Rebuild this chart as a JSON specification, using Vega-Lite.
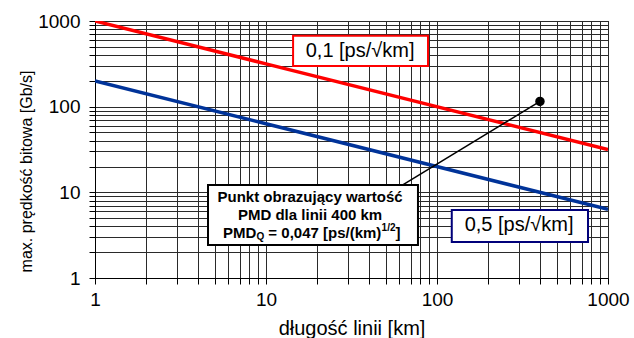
{
  "$schema": "https://vega.github.io/schema/vega-lite/v6.json",
  "width": 513,
  "height": 257,
  "autosize": {"type": "none"},
  "padding": {"left": 95, "top": 21, "right": 26, "bottom": 60},
  "background": "white",
  "config": {
    "font": "Liberation Sans",
    "view": {"stroke": "black", "strokeWidth": 1}
  },
  "datasets": {
    "lines": [
      {"s": "0,1", "x": 1, "y": 1000},
      {"s": "0,1", "x": 10, "y": 316},
      {"s": "0,1", "x": 1000, "y": 31.6},
      {"s": "0,5", "x": 1, "y": 200},
      {"s": "0,5", "x": 10, "y": 63.2},
      {"s": "0,5", "x": 1000, "y": 6.32}
    ],
    "leader": [
      {"x": 400, "y": 115},
      {"x": 60, "y": 11.5}
    ],
    "dot": [{"x": 400, "y": 115}],
    "boxes": [
      {"b": "red", "x": 14.4, "x2": 88.6, "y": 673, "y2": 298},
      {"b": "blue", "x": 122, "x2": 764, "y": 6.24, "y2": 2.64},
      {"b": "black", "x": 4.58, "x2": 77.4, "y": 12.2, "y2": 2.43}
    ],
    "bigLabels": [
      {"t": "0,1 [ps/√km]", "x": 35.5, "y": 447},
      {"t": "0,5 [ps/√km]", "x": 302, "y": 4.17}
    ],
    "boxLines": [
      {"t": "Punkt obrazujący wartość", "x": 18.1, "y": 8.83},
      {"t": "PMD dla linii 400 km", "x": 18.1, "y": 5.44}
    ],
    "l3a": [{"t": "PMD", "x": 5.61, "y": 3.36}],
    "l3q": [{"t": "Q", "x": 5.61, "y": 3.36}],
    "l3b": [{"t": "= 0,047 [ps/(km)", "x": 5.61, "y": 3.36}],
    "l3s": [{"t": "1/2", "x": 5.61, "y": 3.36}],
    "l3c": [{"t": "]", "x": 5.61, "y": 3.36}]
  },
  "encoding": {
    "x": {
      "field": "x",
      "type": "quantitative",
      "scale": {"type": "log", "domain": [1, 1000], "nice": false},
      "axis": {
        "title": "długość linii [km]",
        "titleFont": "Liberation Sans",
        "titleFontSize": 20,
        "titleFontWeight": "normal",
        "titleColor": "black",
        "titleY": 50,
        "titleBaseline": "middle",
        "values": [1, 2, 3, 4, 5, 6, 7, 8, 9, 10, 20, 30, 40, 50, 60, 70, 80, 90, 100, 200, 300, 400, 500, 600, 700, 800, 900, 1000],
        "labelExpr": "(datum.value == 1 || datum.value == 10 || datum.value == 100 || datum.value == 1000) ? format(datum.value, 'd') : ''",
        "labelFont": "Liberation Sans",
        "labelFontSize": 19,
        "labelColor": "black",
        "labelPadding": 6,
        "labelFlush": false,
        "labelOverlap": false,
        "tickSize": 6,
        "tickColor": "black",
        "domainColor": "black",
        "gridColor": "#2a2a2a",
        "gridWidth": 1
      }
    },
    "y": {
      "field": "y",
      "type": "quantitative",
      "scale": {"type": "log", "domain": [1, 1000], "nice": false},
      "axis": {
        "title": "max. prędkość bitowa [Gb/s]",
        "titleFont": "Liberation Sans",
        "titleFontSize": 16,
        "titleFontWeight": "normal",
        "titleColor": "black",
        "titleAngle": -90,
        "titleAnchor": "middle",
        "titleX": -69,
        "titleY": 150,
        "titleAlign": "center",
        "titleBaseline": "middle",
        "values": [1, 2, 3, 4, 5, 6, 7, 8, 9, 10, 20, 30, 40, 50, 60, 70, 80, 90, 100, 200, 300, 400, 500, 600, 700, 800, 900, 1000],
        "labelExpr": "(datum.value == 1 || datum.value == 10 || datum.value == 100 || datum.value == 1000) ? format(datum.value, 'd') : ''",
        "labelFont": "Liberation Sans",
        "labelFontSize": 19,
        "labelColor": "black",
        "labelPadding": 9,
        "labelFlush": false,
        "labelOverlap": false,
        "tickSize": 6,
        "tickColor": "black",
        "domainColor": "black",
        "gridColor": "#2a2a2a",
        "gridWidth": 1
      }
    }
  },
  "layer": [
    {
      "data": {"name": "lines"},
      "mark": {"type": "line", "strokeWidth": 3.5, "clip": true},
      "encoding": {
        "color": {
          "field": "s",
          "type": "nominal",
          "scale": {"domain": ["0,1", "0,5"], "range": ["#ff0000", "#003399"]},
          "legend": null
        }
      }
    },
    {
      "data": {"name": "leader"},
      "mark": {"type": "line", "color": "black", "strokeWidth": 1.5},
      "encoding": {}
    },
    {
      "data": {"name": "dot"},
      "mark": {"type": "point", "filled": true, "color": "black", "size": 90, "opacity": 1}
    },
    {
      "data": {"name": "boxes"},
      "mark": {"type": "rect", "fill": "white", "strokeWidth": 2},
      "encoding": {
        "x2": {"field": "x2"},
        "y2": {"field": "y2"},
        "stroke": {
          "field": "b",
          "type": "nominal",
          "scale": {"domain": ["red", "blue", "black"], "range": ["#ff0000", "#00007a", "#000000"]},
          "legend": null
        }
      }
    },
    {
      "data": {"name": "bigLabels"},
      "mark": {"type": "text", "font": "Liberation Sans", "fontSize": 20, "color": "black", "align": "center", "baseline": "middle"},
      "encoding": {"text": {"field": "t"}}
    },
    {
      "data": {"name": "boxLines"},
      "mark": {"type": "text", "font": "Liberation Sans", "fontSize": 15, "fontWeight": "bold", "color": "black", "align": "center", "baseline": "middle"},
      "encoding": {"text": {"field": "t"}}
    },
    {
      "data": {"name": "l3a"},
      "mark": {"type": "text", "font": "Liberation Sans", "fontSize": 15, "fontWeight": "bold", "color": "black", "align": "left", "baseline": "middle"},
      "encoding": {"text": {"field": "t"}}
    },
    {
      "data": {"name": "l3q"},
      "mark": {"type": "text", "font": "Liberation Sans", "fontSize": 10, "fontWeight": "bold", "color": "black", "align": "left", "baseline": "middle", "dx": 33.5, "dy": 4},
      "encoding": {"text": {"field": "t"}}
    },
    {
      "data": {"name": "l3b"},
      "mark": {"type": "text", "font": "Liberation Sans", "fontSize": 15, "fontWeight": "bold", "color": "black", "align": "left", "baseline": "middle", "dx": 45.3},
      "encoding": {"text": {"field": "t"}}
    },
    {
      "data": {"name": "l3s"},
      "mark": {"type": "text", "font": "Liberation Sans", "fontSize": 10, "fontWeight": "bold", "color": "black", "align": "left", "baseline": "middle", "dx": 158.5, "dy": -5},
      "encoding": {"text": {"field": "t"}}
    },
    {
      "data": {"name": "l3c"},
      "mark": {"type": "text", "font": "Liberation Sans", "fontSize": 15, "fontWeight": "bold", "color": "black", "align": "left", "baseline": "middle", "dx": 172.5},
      "encoding": {"text": {"field": "t"}}
    }
  ]
}
